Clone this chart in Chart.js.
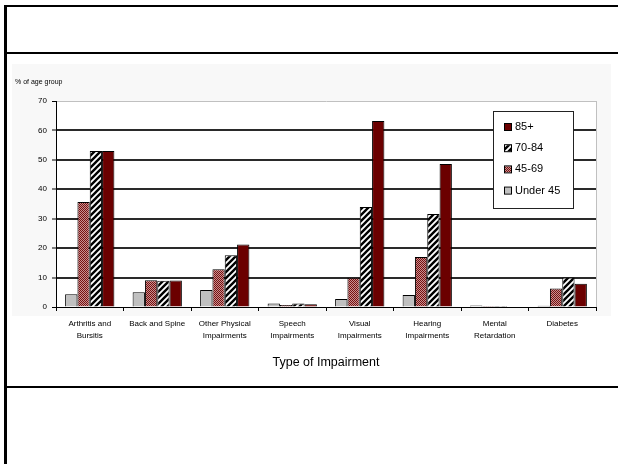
<!DOCTYPE html>
<html><head><meta charset="utf-8">
<script src="https://cdn.jsdelivr.net/npm/chart.js@4"></script>
<style>
html,body{margin:0;padding:0;background:#fff;width:618px;height:464px;overflow:hidden;}
#wrap{position:relative;width:618px;height:464px;}
.f{position:absolute;background:#000;}
#bgimg{position:absolute;left:12px;top:64px;width:599px;height:252px;background:#f8f8f8;}
canvas{position:absolute;left:0;top:0;}
</style></head>
<body><div id="wrap">
<div id="bgimg"></div>
<div class="f" style="left:4px;top:5px;width:3px;height:459px"></div>
<div class="f" style="left:4px;top:5px;width:614px;height:2px"></div>
<div class="f" style="left:7px;top:52px;width:611px;height:2px"></div>
<div class="f" style="left:7px;top:386px;width:611px;height:2px"></div>
<canvas id="c" width="618" height="464"></canvas>
</div>
<script>
const categories = [
  ["Arthritis and","Bursitis"],
  ["Back and Spine"],
  ["Other Physical","Impairments"],
  ["Speech","Impairments"],
  ["Visual","Impairments"],
  ["Hearing","Impairments"],
  ["Mental","Retardation"],
  ["Diabetes"]
];
const seriesLabels = ["Under 45","45-69","70-84","85+"];
const under45 = [4.3, 5.0, 5.8, 1.2, 2.7, 4.1, 0.5, 0.4];
const age45to69 = [35.7, 9.1, 12.8, 0.7, 9.9, 17.0, 0.3, 6.3];
const age70to84 = [53.0, 8.9, 17.6, 1.2, 34.0, 31.6, 0.3, 10.0];
const age85plus = [53.0, 9.0, 21.2, 0.9, 63.2, 48.6, 0.2, 7.9];
const yTicks = [0,10,20,30,40,50,60,70];
const yTitle = "% of age group";
const xTitle = "Type of Impairment";

const FONT = "'Liberation Sans', Arial, sans-serif";

function checker(){
  const c=document.createElement('canvas'); c.width=2; c.height=2;
  const g=c.getContext('2d');
  g.fillStyle='#c89090'; g.fillRect(0,0,2,2);
  g.fillStyle='#761010'; g.fillRect(0,0,1,1); g.fillRect(1,1,1,1);
  return g.createPattern(c,'repeat');
}
function stripes(){
  const s=6;
  const c=document.createElement('canvas'); c.width=s; c.height=s;
  const g=c.getContext('2d');
  g.fillStyle='#ffffff'; g.fillRect(0,0,s,s);
  g.strokeStyle='#000'; g.lineWidth=2.4;
  g.beginPath();
  g.moveTo(-s/2, s/2); g.lineTo(s/2, -s/2);
  g.moveTo(0, s); g.lineTo(s, 0);
  g.moveTo(s/2, s*1.5); g.lineTo(s*1.5, s/2);
  g.stroke();
  return g.createPattern(c,'repeat');
}
const fills = ['#c0c0c0', checker(), stripes(), '#6b0000'];
const values = [under45, age45to69, age70to84, age85plus];

const deco = {
  id:'deco',
  beforeDraw(chart){
    const a=chart.chartArea, ctx=chart.ctx;
    ctx.save(); ctx.fillStyle='#fff';
    ctx.fillRect(a.left,a.top,a.right-a.left,a.bottom-a.top);
    ctx.restore();
  },
  beforeDatasetsDraw(chart){
    const a=chart.chartArea, ctx=chart.ctx;
    ctx.save(); ctx.strokeStyle='#c0c0c0'; ctx.lineWidth=1;
    ctx.beginPath(); ctx.moveTo(a.right+0.5,a.top); ctx.lineTo(a.right+0.5,a.bottom); ctx.stroke();
    ctx.restore();
  },
  afterDraw(chart){
    const ctx=chart.ctx;
    ctx.save();
    ctx.fillStyle='#000'; ctx.font='7px '+FONT; ctx.textBaseline='middle'; ctx.textAlign='left';
    ctx.fillText(yTitle, 15, 82);
    const bx=493, by=111, bw=80, bh=97;
    ctx.fillStyle='#fff'; ctx.fillRect(bx,by,bw,bh);
    ctx.strokeStyle='#222'; ctx.lineWidth=1; ctx.strokeRect(bx+0.5,by+0.5,bw,bh);
    const ds=chart.data.datasets.slice().reverse();
    ctx.font='11px '+FONT;
    ds.forEach((d,i)=>{
      const y=127+i*21.2;
      ctx.fillStyle=d.backgroundColor; ctx.fillRect(505,y-3,6,6);
      ctx.strokeStyle='#000'; ctx.strokeRect(504.5,y-3.5,7,7);
      ctx.fillStyle='#000'; ctx.fillText(d.label, 515, y);
    });
    ctx.restore();
  }
};

new Chart(document.getElementById('c'), {
  type:'bar',
  data:{
    labels:categories,
    datasets:seriesLabels.map((l,i)=>({
      label:l, data:values[i], backgroundColor:fills[i],
      borderColor:'#000', borderWidth:1,
      categoryPercentage:0.73, barPercentage:1.0
    }))
  },
  options:{
    responsive:false, animation:false, devicePixelRatio:1,
    layout:{padding:{left:0,right:22,top:101,bottom:0}},
    plugins:{legend:{display:false}, tooltip:{enabled:false}, title:{display:false}},
    scales:{
      x:{
        ticks:{font:{size:8,family:FONT,lineHeight:1.45},color:'#000',padding:7,maxRotation:0,autoSkip:false},
        grid:{display:true,drawOnChartArea:false,offset:true,tickLength:4,color:'#000',tickColor:'#000'},
        border:{color:'#000',width:1},
        title:{display:true,text:xTitle,font:{size:12.5,family:FONT},color:'#000',padding:{top:0,bottom:94}},
        afterFit:s=>{s.height=157;}
      },
      y:{
        min:0,max:70,
        afterBuildTicks:s=>{s.ticks=yTicks.map(v=>({value:v}));},
        ticks:{font:{size:8,family:FONT},color:'#000',padding:5},
        grid:{
          color:c=>{const v=c.tick&&c.tick.value; return v===70?'#c0c0c0':(v===0?'#000':'#2a2a2a');},
          lineWidth:c=>{const v=c.tick&&c.tick.value; return (v===70||v===0)?1:2;},
          tickColor:'#000',tickWidth:1,tickLength:4
        },
        border:{color:'#000',width:1},
        afterFit:s=>{s.width=56;}
      }
    }
  },
  plugins:[deco]
});
</script>
</body></html>
